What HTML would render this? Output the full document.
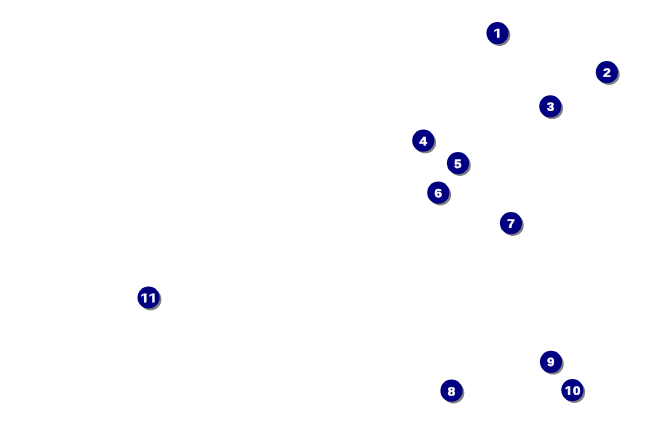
<!DOCTYPE html>
<html><head><meta charset="utf-8"><title>Map markers</title>
<style>
html,body{margin:0;padding:0;background:#fff;}
body{width:650px;height:425px;overflow:hidden;position:relative;font-family:"Liberation Sans",sans-serif;}
svg{position:absolute;left:0;top:0;display:block;will-change:transform;}
text{font-family:"Liberation Sans",sans-serif;font-weight:bold;font-kerning:none;fill:#fff;stroke:#fff;text-anchor:start;}
.n{font-size:12px;stroke-width:0.5px;}
.w{font-size:13.1px;stroke-width:0.15px;}
.m{font-size:12px;stroke-width:0.45px;}
.s{fill:#808080;}
.c{fill:#000080;}
</style></head><body>
<svg width="650" height="425" viewBox="0 0 650 425">
<defs>
<filter id="b" x="-20%" y="-20%" width="140%" height="140%"><feGaussianBlur stdDeviation="0.5"/></filter>
<clipPath id="k1"><rect x="485.5" y="21.1" width="24" height="14.9"/><rect x="497.04" y="36" width="2.42" height="4"/></clipPath>
<clipPath id="k10"><rect x="560.4" y="378.1" width="24" height="14.9"/><rect x="567.85" y="393" width="2.4" height="4"/><rect x="573" y="393" width="8.47" height="4"/></clipPath>
<clipPath id="k11"><rect x="136.6" y="285.5" width="24" height="15.5"/><rect x="143.99" y="301" width="2.42" height="4"/><rect x="152.19" y="301" width="2.42" height="4"/></clipPath>
</defs>
<g><circle class="s" cx="499.5" cy="35.1" r="10.8" filter="url(#b)"/><circle class="c" cx="497.5" cy="33.1" r="11.08"/><g clip-path="url(#k1)"><text class="w" x="-3.35" transform="translate(497.5,37.7) rotate(0.03) scale(1.243,1)">1</text></g></g>
<g><circle class="s" cx="608.9" cy="74.2" r="10.8" filter="url(#b)"/><circle class="c" cx="606.9" cy="72.2" r="11.08"/><g><text class="n" x="-3.34" transform="translate(606.9,76.75) rotate(0.03) scale(1.12,1)">2</text></g></g>
<g><circle class="s" cx="552.3" cy="108.3" r="10.8" filter="url(#b)"/><circle class="c" cx="550.3" cy="106.3" r="11.08"/><g><text class="m" x="-3.1" transform="translate(550.3,110.8) rotate(0.03) scale(1.07,1)">3</text></g></g>
<g><circle class="s" cx="425.3" cy="142.55" r="10.8" filter="url(#b)"/><circle class="c" cx="423.3" cy="140.55" r="11.08"/><g><text class="n" x="-3.34" transform="translate(423.3,145.25) rotate(0.03) scale(1.12,1)">4</text></g></g>
<g><circle class="s" cx="460" cy="165.2" r="10.8" filter="url(#b)"/><circle class="c" cx="458" cy="163.2" r="11.08"/><g><text class="m" x="-3.43" transform="translate(458,167.95) rotate(0.03) scale(1.07,1)">5</text></g></g>
<g><circle class="s" cx="440.3" cy="194.7" r="10.8" filter="url(#b)"/><circle class="c" cx="438.3" cy="192.7" r="11.08"/><g><text class="n" x="-3.34" transform="translate(438.3,197.25) rotate(0.03) scale(1.12,1)">6</text></g></g>
<g><circle class="s" cx="513" cy="225.2" r="10.8" filter="url(#b)"/><circle class="c" cx="511" cy="223.2" r="11.08"/><g><text class="n" x="-3.34" transform="translate(511,227.75) rotate(0.03) scale(1.12,1)">7</text></g></g>
<g><circle class="s" cx="453.5" cy="392.7" r="10.8" filter="url(#b)"/><circle class="c" cx="451.5" cy="390.7" r="11.08"/><g><text class="n" x="-3.29" transform="translate(451.5,395.5) rotate(0.03) scale(1.12,1)">8</text></g></g>
<g><circle class="s" cx="553" cy="363.8" r="10.8" filter="url(#b)"/><circle class="c" cx="551" cy="361.8" r="11.08"/><g><text class="m" x="-3.52" transform="translate(551,366.1) rotate(0.03) scale(1.07,1)">9</text></g></g>
<g><circle class="s" cx="574.4" cy="392.1" r="10.8" filter="url(#b)"/><circle class="c" cx="572.4" cy="390.1" r="11.08"/><g clip-path="url(#k10)"><text class="n" x="-6.62 0.45" transform="translate(572.4,394.65) rotate(0.03) scale(1.12,1)">10</text></g></g>
<g><circle class="s" cx="150.6" cy="299.5" r="10.8" filter="url(#b)"/><circle class="c" cx="148.6" cy="297.5" r="11.08"/><g clip-path="url(#k11)"><text class="w" x="-6.69 -0.1" transform="translate(148.6,302.55) rotate(0.03) scale(1.243,1)">11</text></g></g>
</svg>
</body></html>
